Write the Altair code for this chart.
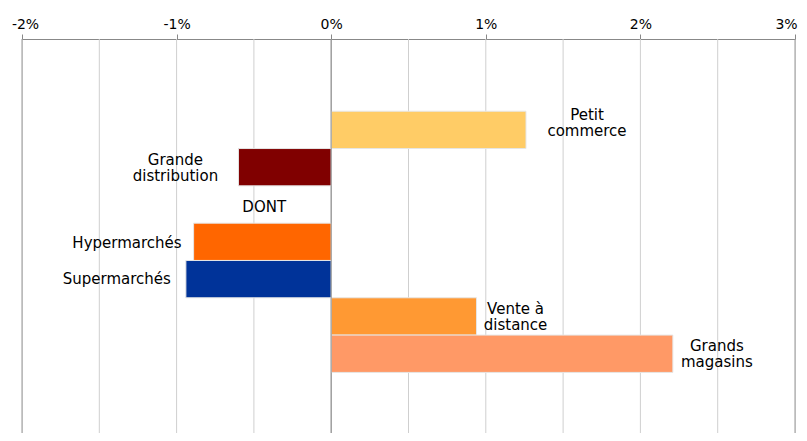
import altair as alt
import pandas as pd

categories = ["Petit commerce", "Grande distribution", "DONT", "Hypermarchés",
              "Supermarchés", "Vente à distance", "Grands magasins"]
labels = ["Petit\ncommerce", "Grande\ndistribution", "DONT", "Hypermarchés",
          "Supermarchés", "Vente à\ndistance", "Grands\nmagasins"]
values = [0.0126, -0.0060, None, -0.0089, -0.0094, 0.0094, 0.0221]
colors = ["#FFCC66", "#800000", "#FFFFFF", "#FF6600", "#003399", "#FF9933", "#FF9966"]
tick_values = [-0.02, -0.01, 0.0, 0.01, 0.02, 0.03]
grid_values = [-0.02, -0.015, -0.01, -0.005, 0.0, 0.005, 0.01, 0.015, 0.02, 0.025, 0.03]

# label styling: (align, dx, dy)
label_style = {
    "Petit commerce": ("center", 61, -15),
    "Grande distribution": ("center", -63, -7),
    "DONT": ("center", -67, 2),
    "Hypermarchés": ("right", -12, 1),
    "Supermarchés": ("right", -15, 0),
    "Vente à distance": ("center", 39, -7),
    "Grands magasins": ("center", 44, -8),
}

df = pd.DataFrame({"cat": categories, "label": labels, "value": values})
bars_df = df.dropna(subset=["value"])
grid_df = pd.DataFrame({"g": grid_values})

FONT = "DejaVu Sans"

# empty spacer rows above and below the categories
y_domain = ["_top"] + categories + ["_bottom"]

xscale = alt.Scale(domain=[-0.02, 0.03], nice=False, zero=False)
yscale = alt.Scale(domain=y_domain, paddingInner=0, paddingOuter=0.78, align=0.6)
xaxis = alt.Axis(orient="top", values=tick_values, format=".0%",
                 labelExpr="replace(datum.label, '\u2212', '-')",
                 grid=False, title=None, domainColor="#888888",
                 tickColor="#888888", tickSize=5, labelFont=FONT,
                 labelFontSize=14, labelColor="#000000", labelPadding=3,
                 labelFlush=False,
                 labelOffset={"condition": [{"test": "datum.value >= 0.029", "value": -9},
                                            {"test": "datum.value <= -0.019", "value": 3}],
                              "value": 0})

grid = alt.Chart(grid_df).mark_rule(strokeWidth=1).encode(
    x=alt.X("g:Q", scale=xscale, axis=xaxis),
    color=alt.condition(
        "datum.g == 0 || datum.g == -0.02 || datum.g == 0.03",
        alt.value("#999999"), alt.value("#cfcfcf")),
)

bars = alt.Chart(bars_df).mark_bar(stroke="#e6e6e6", strokeWidth=1).encode(
    x=alt.X("value:Q", scale=xscale, axis=xaxis),
    x2=alt.datum(0),
    y=alt.Y("cat:N", scale=yscale, axis=None),
    color=alt.Color("cat:N", scale=alt.Scale(domain=categories, range=colors), legend=None),
)

zero = alt.Chart(grid_df).transform_filter("datum.g == 0").mark_rule(
    color="#999999", strokeWidth=1).encode(x=alt.X("g:Q", scale=xscale, axis=xaxis))

text_layers = []
for cat in categories:
    align, dx, dy = label_style[cat]
    t = alt.Chart(df).transform_filter(
        alt.datum.cat == cat
    ).transform_calculate(
        xpos="isValid(datum.value) ? datum.value : 0"
    ).mark_text(
        align=align, baseline="middle", dx=dx, dy=dy, font=FONT, fontSize=15,
        lineHeight=16, lineBreak="\n", color="#000000"
    ).encode(
        x=alt.X("xpos:Q", scale=xscale, axis=xaxis),
        y=alt.Y("cat:N", scale=yscale, axis=None),
        text="label:N",
    )
    text_layers.append(t)

chart = alt.layer(grid, bars, zero, *text_layers).properties(
    width=773, height=394,
    autosize=alt.AutoSizeParams(type="none"),
    padding={"left": 14, "top": 31, "right": 4, "bottom": 0},
).configure_view(stroke=None).configure(background="white")

chart.save("out.html", embed_options={"renderer": "svg", "actions": False})
